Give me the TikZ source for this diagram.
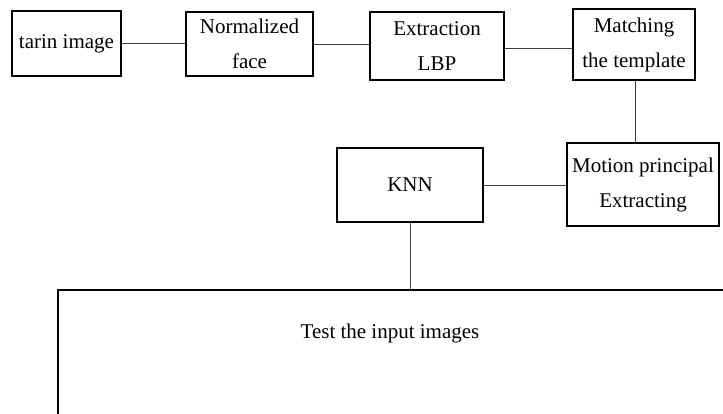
\documentclass[tikz,border=0pt]{standalone}
\usepackage{fontspec}
\setmainfont{Liberation Serif}
\usetikzlibrary{positioning}

\begin{document}
\begin{tikzpicture}[x=1pt,y=-1pt,
 stage/.style={draw,line width=1.5pt,align=center,inner sep=0pt,
  font=\fontsize{21}{35}\selectfont},
 link/.style={line width=0.9pt,black!75}]
\clip (0,0) rectangle (723,414);
\useasboundingbox (0,0) rectangle (723,414);
% top row of stages
\node[stage,minimum width=109pt,minimum height=65pt] (train) at (66.5,43.5) {tarin image};
\node[stage,minimum width=127pt,minimum height=64pt] (norm) at (249.5,44) {Normalized\\face};
\node[stage,minimum width=134pt,minimum height=68pt] (lbp) at (437,46) {Extraction\\LBP};
\node[stage,minimum width=122pt,minimum height=71pt] (match) at (634,44.5) {Matching\\the template};
% second row
\node[stage,minimum width=152pt,minimum height=83pt] (motion) at (643,184.5) {Motion principal\\Extracting};
\node[stage,minimum width=146pt,minimum height=74pt] (knn) at (410,185) {KNN};
% test box runs off the page
\node[stage,anchor=north west,minimum width=720pt,minimum height=180pt] (test) at (57,289) {};
\node[font=\fontsize{21}{35}\selectfont] (testlabel) at (390,333) {Test the input images};
\draw[link] (train.east) -- (norm.west|-train.east);
\draw[link] (norm.east) -- (lbp.west|-norm.east);
\draw[link] (lbp.east|-0,48) -- (match.west|-0,48);
\draw[link] (match.south-|635,0) -- (motion.north-|635,0);
\draw[link] (motion.west|-knn.east) -- (knn.east);
\draw[link] (knn.south) -- (knn.south|-test.north);
\end{tikzpicture}
\end{document}
